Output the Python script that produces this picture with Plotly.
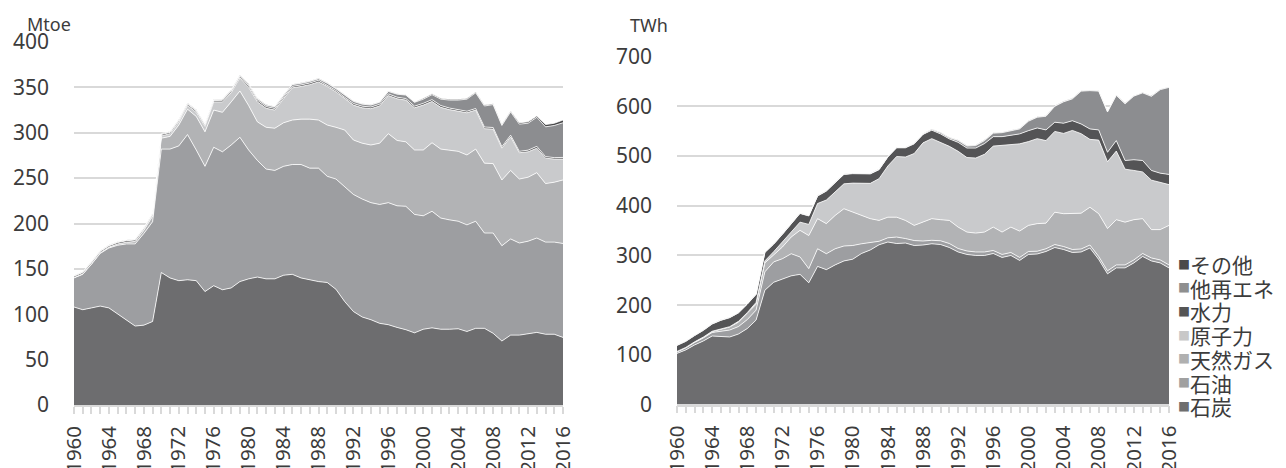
import plotly.graph_objects as go

years = list(range(1960, 2017))
tick_years = [1960, 1964, 1968, 1972, 1976, 1980, 1984, 1988, 1992, 1996, 2000, 2004, 2008, 2012, 2016]
tick_labels = ["1960", "1964", "1968", "1972", "1976", "1980", "1984", "1988",
               "1992", "1996", "2000", "2004", "2008", "2012", "2016"]

series_names = ["石炭", "石油", "天然ガス", "原子力", "水力", "他再エネ", "その他"]
colors = ["#6d6d6f", "#9d9ea1", "#b2b3b5", "#c9cacc", "#545456", "#8c8d90", "#48484a"]
legend_colors = ["#6e6e6e", "#a0a0a0", "#b0b0b0", "#c8c8c8", "#555555", "#8f8f8f", "#4a4a4a"]

# ---- Primary energy supply (Mtoe) ----
left_coal = [108, 105, 107, 109, 107, 100, 93, 87, 88, 92,
             146, 140, 137, 138, 137, 125, 131.5, 127, 129, 136,
             139, 141, 139, 139, 143, 144, 140, 138, 136, 135,
             127.5, 114, 103, 97, 94, 90, 88.5, 85.5, 83, 79.5,
             83.5, 85, 83.5, 83.5, 84, 81, 84.5, 84.5, 79, 70.5,
             77, 77, 78.5, 80, 78, 78, 74.5]
left_oil = [32, 39, 48, 58, 66, 76, 84.5, 90.5, 101, 110,
            136, 142, 148.5, 160, 144, 138, 152.5, 152, 157.5, 159,
            142, 128.5, 121, 119.5, 120, 121, 125, 123, 125, 117,
            121.5, 127, 129, 130, 129, 131, 134.5, 134, 136, 130.5,
            125, 128.5, 122.5, 120.5, 118.5, 117.5, 118, 105, 110.5, 105,
            106, 101.5, 102, 104, 101.5, 101.5, 103.5]
left_gas = [0.5, 0.5, 0.6, 0.8, 1.0, 1.5, 1.8, 2.5, 3.5, 6,
            12, 14, 23, 28, 37, 38, 41, 43.5, 47.5, 51,
            49, 42.5, 46, 46.5, 48, 49, 50, 54, 53, 56.5,
            57, 62, 60, 61.5, 63.5, 67.5, 76, 72, 71, 71,
            72.5, 75.5, 76, 76.5, 77, 77, 79.5, 77, 76.5, 72.5,
            75.5, 70.5, 70.5, 72, 64.5, 66, 70]
left_nuclear = [0, 0, 0, 0, 0, 0, 0.1, 0.3, 0.5, 1.2,
                2.5, 3, 3.5, 4, 4.5, 6, 9, 11.5, 10, 14.5,
                20, 22, 21, 20, 26.5, 35.5, 36, 38, 42, 42.5,
                39, 34.5, 38.5, 39, 40, 41, 42, 46, 46, 46.5,
                49.5, 45.5, 46, 45, 44, 46.5, 43, 38, 38, 35,
                37, 29, 28, 27, 28, 25.5, 23]
left_hydro = [1.4, 1.5, 1.5, 1.4, 1.4, 1.6, 1.6, 1.6, 1.5, 1.4,
              1.6, 1.4, 1.5, 1.5, 1.6, 1.5, 1.4, 1.7, 1.7, 1.7,
              1.8, 1.8, 1.8, 1.7, 1.7, 1.6, 1.7, 1.8, 1.8, 1.6,
              1.5, 1.5, 1.7, 1.8, 1.8, 1.9, 1.8, 1.7, 1.7, 1.8,
              1.9, 2.0, 2.0, 1.7, 1.8, 1.7, 1.7, 1.8, 1.8, 1.6,
              1.8, 1.5, 1.8, 2.0, 1.7, 1.6, 1.8]
left_renew = [0.5, 0.5, 0.5, 0.5, 0.5, 0.5, 0.5, 0.5, 0.5, 0.5,
              0.6, 0.6, 0.6, 0.7, 0.7, 0.7, 0.8, 0.8, 0.8, 0.8,
              1.7, 1.7, 1.7, 1.8, 1.8, 1.9, 1.8, 1.7, 1.7, 1.9,
              2.0, 2.5, 2.3, 2.2, 2.2, 2.1, 2.7, 3.3, 3.8, 4.2,
              4.6, 5.5, 7.0, 8.8, 10.7, 13.3, 17.3, 23.2, 25.2, 23.4,
              25.7, 30.0, 29.7, 32.0, 32.8, 35.4, 38.2]
left_other = [0.3, 0.3, 0.3, 0.3, 0.3, 0.3, 0.3, 0.3, 0.3, 0.3,
              0.5, 0.5, 0.5, 0.5, 0.5, 0.5, 0.5, 0.5, 0.5, 0.5,
              0.5, 0.5, 0.5, 0.5, 0.5, 0.5, 0.5, 0.5, 0.5, 0.5,
              0.5, 0.5, 0.5, 0.5, 0.5, 0.5, 0.5, 0.5, 0.5, 0.5,
              1.0, 1.0, 1.0, 1.0, 1.0, 1.0, 1.0, 1.0, 1.0, 1.0,
              1.0, 1.5, 1.5, 1.5, 2.5, 2.5, 3.0]

# ---- Electricity generation (TWh) ----
right_coal = [103, 110, 120, 128, 138, 137, 136, 142, 153, 170,
              230, 246, 252, 259, 262, 245, 278, 271.5, 281, 289,
              292.5, 304, 311, 321.5, 327, 324, 325, 320, 321, 323.5,
              322, 316, 307, 302, 300, 300, 304, 296, 300, 290,
              302, 303, 308, 316, 312, 306, 307, 315, 292, 263,
              275, 275, 285, 298, 289, 285, 275]
right_oil = [3, 4, 5, 6, 7, 10, 14, 15, 18, 20,
             37, 41, 41.5, 44.5, 35, 28.5, 35.5, 32, 32.5, 30,
             27.5, 19.5, 14.5, 7, 8.5, 13, 9, 10, 8, 7,
             7.5, 8, 7, 7, 7, 7, 6, 6, 6, 6,
             6, 5.5, 5.5, 6, 6, 6, 6, 6, 6, 6,
             6, 6, 6, 6, 6, 6, 6]
right_gas = [1, 1, 1, 1.5, 2, 4, 6, 9, 12, 12,
             18, 15, 23.5, 33.5, 53.5, 66.5, 60.5, 60.5, 67, 75,
             67.5, 57, 48.5, 42, 41.5, 40, 36.5, 30.5, 38, 43.5,
             42.5, 46.5, 43, 38, 38, 40, 47, 45, 51, 53,
             52.5, 55.5, 51.5, 65, 66, 72, 72, 76, 86, 85,
             91, 86, 81, 70, 57, 61, 79.5]
right_nuclear = [0, 0.1, 0.2, 0.3, 0.5, 0.5, 0.8, 1.5, 2, 3.5,
                 4, 5.5, 10.5, 10, 16.5, 22.5, 30.5, 47.5, 47, 50,
                 58, 64, 71, 84, 103, 122, 127.5, 144.5, 159.5, 161,
                 155, 149, 152.5, 150, 151, 156.5, 163, 174, 166, 175.5,
                 168.5, 171, 166, 162.5, 161.5, 167.5, 160, 136.5, 148, 134.5,
                 138, 106.5, 99, 94, 99.5, 94.5, 82]
right_hydro = [12, 12, 12.5, 13.5, 14.5, 18, 18, 17, 17, 16,
               17, 15, 15, 16, 17.5, 17, 15, 18, 19, 19,
               19, 19.5, 19, 18, 18, 17.5, 18.5, 19.5, 17, 17,
               17.5, 15, 18, 19, 20, 21.5, 19, 18, 18, 20,
               22, 21.5, 21.5, 18.5, 20.5, 19.5, 19.5, 21, 20.5, 19,
               21, 17.5, 21.5, 23, 19.5, 19, 20.5]
right_renew = [0.5, 0.5, 0.5, 0.5, 0.5, 0.5, 0.5, 0.5, 0.5, 0.5,
               0.5, 0.5, 0.5, 0.5, 0.5, 0.5, 0.5, 0.5, 0.5, 0.5,
               0.7, 0.7, 0.7, 0.7, 0.7, 0.7, 0.7, 0.7, 0.7, 1.5,
               2.5, 2.3, 3.7, 4, 5, 6, 7, 8, 9, 10,
               19, 21.5, 27.5, 32, 43, 44, 66, 77, 78, 81,
               91, 114, 128, 136, 149, 168, 175]
right_other = [0.5, 0.5, 0.5, 0.5, 0.5, 0.5, 0.5, 0.5, 0.5, 0.5,
               0.5, 0.5, 0.5, 0.5, 0.5, 0.5, 0.5, 0.5, 0.5, 0.5,
               0.5, 0.5, 0.5, 0.5, 0.5, 0.5, 0.5, 0.5, 0.5, 1,
               1, 1, 1, 1, 1, 1, 1, 1, 1, 1,
               1, 1, 1, 1, 1, 1, 1, 1, 1, 1,
               1, 1, 1, 1, 1, 1, 1]

left_series = [left_coal, left_oil, left_gas, left_nuclear, left_hydro, left_renew, left_other]
right_series = [right_coal, right_oil, right_gas, right_nuclear, right_hydro, right_renew, right_other]

W, H = 1286, 468
TEXT = "#3c3c3c"
GRID = "#d9d9d9"
FONT = "Noto Sans, Noto Sans CJK JP"
CJK = "Noto Sans CJK JP"

fig = go.Figure()
for i, name in enumerate(series_names):
    fig.add_trace(go.Scatter(
        x=years, y=left_series[i], name=name, stackgroup="left", mode="lines",
        line=dict(color="white", width=0.8), fillcolor=colors[i],
        xaxis="x", yaxis="y", showlegend=False))
for i, name in enumerate(series_names):
    fig.add_trace(go.Scatter(
        x=years, y=right_series[i], name=name, stackgroup="right", mode="lines",
        line=dict(color="white", width=0.8), fillcolor=colors[i],
        xaxis="x2", yaxis="y2", showlegend=False))

def xaxis_common(domain, anchor):
    return dict(
        domain=domain, anchor=anchor, range=[1960, 2016],
        tickmode="array", tickvals=tick_years, ticktext=tick_labels,
        tickangle=-90, ticks="outside", ticklen=7, tickcolor=GRID, tickwidth=1.5,
        showline=True, linecolor=GRID, linewidth=1.5,
        showgrid=False, zeroline=False,
        tickfont=dict(size=20.5, color=TEXT, family=FONT),
        ticklabelstandoff=4,
        minor=dict(tickmode="linear", tick0=1960, dtick=1, ticks="outside",
                   ticklen=7, tickcolor=GRID, tickwidth=1.5, showgrid=False),
        automargin=False,
    )

def yaxis_common(domain, anchor, rng, dt):
    return dict(
        domain=domain, anchor=anchor, range=rng, tick0=0, dtick=dt,
        showgrid=True, gridcolor=GRID, gridwidth=1.5,
        zeroline=False, showline=False, ticks="",
        tickfont=dict(size=21, color=TEXT, family=FONT),
        ticklabelstandoff=24, automargin=False,
    )

fig.update_layout(
    width=W, height=H,
    margin=dict(l=0, r=0, t=0, b=0),
    paper_bgcolor="white", plot_bgcolor="white",
    font=dict(family=FONT, color=TEXT),
    showlegend=False,
    xaxis=xaxis_common([74 / W, 563 / W], "y"),
    yaxis=yaxis_common([1 - 405 / H, 1 - 42 / H], "x", [0, 400], 50),
    xaxis2=xaxis_common([677 / W, 1169 / W], "y2"),
    yaxis2=yaxis_common([1 - 404.6 / H, 1 - 56.6 / H], "x2", [0, 700], 100),
)

annotations = [
    dict(text="Mtoe", x=49 / W, y=1 - 24 / H, xref="paper", yref="paper",
         xanchor="center", yanchor="middle", showarrow=False,
         font=dict(size=18, color=TEXT, family=FONT)),
    dict(text="TWh", x=649 / W, y=1 - 25 / H, xref="paper", yref="paper",
         xanchor="center", yanchor="middle", showarrow=False,
         font=dict(size=18, color=TEXT, family=FONT)),
]
# Legend (top-to-bottom order is the reverse of the stacking order)
for k, i in enumerate(reversed(range(len(series_names)))):
    yc = 264 + 23.7 * k
    annotations.append(dict(
        text="■", x=1184 / W, y=1 - yc / H, xref="paper", yref="paper",
        xanchor="center", yanchor="middle", showarrow=False, borderpad=0,
        font=dict(size=12, color=legend_colors[i], family=CJK)))
    annotations.append(dict(
        text=series_names[i], x=1189 / W, y=1 - yc / H, xref="paper", yref="paper",
        xanchor="left", yanchor="middle", showarrow=False, borderpad=0,
        font=dict(size=21, color=TEXT, family=CJK)))
fig.update_layout(annotations=annotations)

fig.write_html(
    "out.html",
    config={"displayModeBar": False},
    post_script="document.body.style.margin='0';document.body.style.padding='0';"
                "document.documentElement.style.overflow='hidden';",
)
